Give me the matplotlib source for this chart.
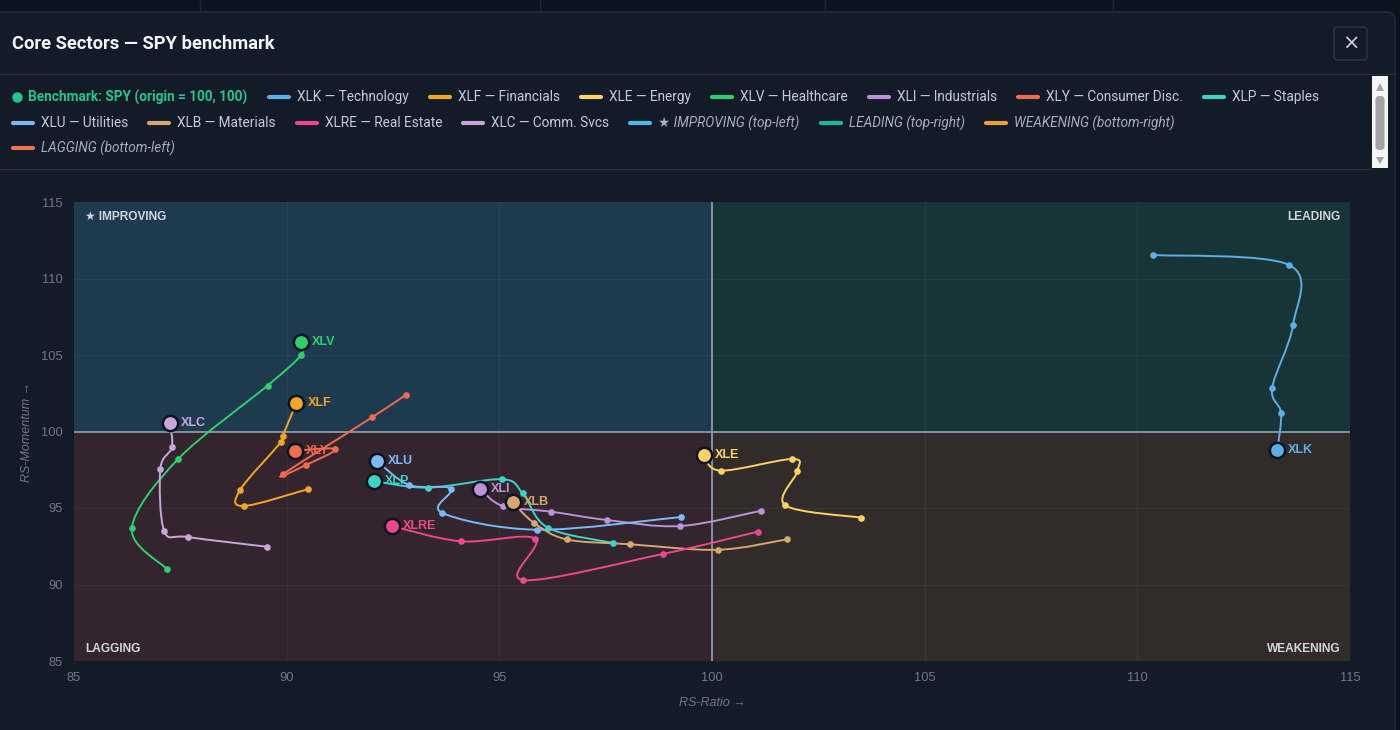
import matplotlib
matplotlib.use("Agg")
import matplotlib.pyplot as plt
from matplotlib.path import Path
from matplotlib.patches import PathPatch, Rectangle, FancyBboxPatch, Polygon

UI_FONT = ["Roboto", "DejaVu Sans"]
AX_FONT = ["Liberation Sans", "DejaVu Sans"]

# ---- data: RRG trails, oldest point first, last point = current position ----
tickers = ["XLK", "XLF", "XLE", "XLV", "XLI", "XLY", "XLP", "XLU", "XLB", "XLRE", "XLC"]
sector_names = ["Technology", "Financials", "Energy", "Healthcare", "Industrials",
                "Consumer Disc.", "Staples", "Utilities", "Materials", "Real Estate",
                "Comm. Svcs"]
colors = ["#5eaee6", "#f5a524", "#fcd265", "#2fcf6e", "#bd92d8", "#f26a4f",
          "#3fd3c6", "#7cb9fb", "#d6a86f", "#f0468e", "#c8a6dc"]

xlk_ratio = [110.37, 113.57, 113.66, 113.17, 113.38, 113.29]
xlk_mom = [111.54, 110.88, 106.96, 102.84, 101.21, 98.79]
xlf_ratio = [90.51, 88.99, 88.90, 89.86, 89.91, 90.23]
xlf_mom = [96.24, 95.13, 96.16, 99.29, 99.73, 101.86]
xle_ratio = [103.50, 101.72, 102.01, 101.88, 100.21, 99.81]
xle_mom = [94.37, 95.18, 97.42, 98.20, 97.44, 98.44]
xlv_ratio = [87.19, 86.36, 87.44, 89.55, 90.34, 90.34]
xlv_mom = [91.00, 93.67, 98.18, 103.00, 105.00, 105.83]
xli_ratio = [101.15, 99.25, 97.52, 96.22, 95.08, 94.55]
xli_mom = [94.82, 93.82, 94.22, 94.76, 95.13, 96.24]
xly_ratio = [92.81, 92.01, 89.91, 90.45, 91.14, 90.19]
xly_mom = [102.41, 100.93, 97.20, 97.81, 98.84, 98.75]
xlp_ratio = [97.68, 96.14, 95.55, 95.06, 93.32, 92.05]
xlp_mom = [92.71, 93.71, 95.96, 96.88, 96.33, 96.76]
xlu_ratio = [99.27, 95.88, 93.65, 93.86, 92.88, 92.12]
xlu_mom = [94.41, 93.58, 94.69, 96.26, 96.50, 98.07]
xlb_ratio = [101.76, 100.14, 98.07, 96.58, 95.81, 95.32]
xlb_mom = [92.95, 92.27, 92.63, 92.95, 94.04, 95.37]
xlre_ratio = [101.07, 98.85, 95.56, 95.84, 94.10, 92.47]
xlre_mom = [93.45, 92.00, 90.29, 93.00, 92.82, 93.82]
xlc_ratio = [89.53, 87.68, 87.12, 87.03, 87.30, 87.26]
xlc_mom = [92.47, 93.10, 93.50, 97.57, 98.97, 100.54]

ratios = [xlk_ratio, xlf_ratio, xle_ratio, xlv_ratio, xli_ratio, xly_ratio,
          xlp_ratio, xlu_ratio, xlb_ratio, xlre_ratio, xlc_ratio]
moms = [xlk_mom, xlf_mom, xle_mom, xlv_mom, xli_mom, xly_mom,
        xlp_mom, xlu_mom, xlb_mom, xlre_mom, xlc_mom]

quad_names = ["\u2605 IMPROVING (top-left)", "LEADING (top-right)",
              "WEAKENING (bottom-right)", "LAGGING (bottom-left)"]
quad_colors = ["#4cb9ea", "#1fb58f", "#f0a030", "#f07055"]

x_ticks = [85, 90, 95, 100, 105, 110, 115]
y_ticks = [85, 90, 95, 100, 105, 110, 115]

BG = "#131b29"
TXT = "#c6cbd4"


def smooth_path(xs, ys):
    # catmull-rom through the points, expressed as cubic bezier segments
    pts = list(zip(xs, ys))
    n = len(pts)
    verts = [pts[0]]
    codes = [Path.MOVETO]
    for i in range(n - 1):
        p0 = pts[max(i - 1, 0)]
        p1 = pts[i]
        p2 = pts[i + 1]
        p3 = pts[min(i + 2, n - 1)]
        c1 = (p1[0] + (p2[0] - p0[0]) / 6, p1[1] + (p2[1] - p0[1]) / 6)
        c2 = (p2[0] - (p3[0] - p1[0]) / 6, p2[1] - (p3[1] - p1[1]) / 6)
        verts += [c1, c2, p2]
        codes += [Path.CURVE4] * 3
    return Path(verts, codes)


fig = plt.figure(figsize=(14, 7.3), dpi=100)
fig.patch.set_facecolor("#0c131d")

# ---- page / modal chrome in pixel coordinates ----
bg = fig.add_axes([0, 0, 1, 1])
bg.set_xlim(0, 1400)
bg.set_ylim(730, 0)
bg.axis("off")
for xv in [200, 540, 825, 1113]:
    bg.plot([xv, xv], [0, 11], color="#1c2634", lw=1)
bg.add_patch(FancyBboxPatch((-20, 12), 1415, 760, boxstyle="round,pad=0,rounding_size=8",
                            fc=BG, ec="#243042", lw=1))
bg.text(12, 44, "Core Sectors \u2014 SPY benchmark", fontsize=13.2, fontweight="bold",
        color="#f2f4f7", va="center", family=UI_FONT)
bg.add_patch(FancyBboxPatch((1334, 27), 33, 33, boxstyle="round,pad=0,rounding_size=4",
                            fc=BG, ec="#2c3748", lw=1))
bg.text(1350.5, 44, "\u00d7", fontsize=15, color="#c8ccd4", ha="center", va="center",
        family=["DejaVu Sans"])
bg.plot([0, 1395], [74, 74], color="#232e3e", lw=1)
bg.plot([0, 1370], [169, 169], color="#232e3e", lw=1)

# scrollbar
bg.add_patch(Rectangle((1372, 76), 16, 92, fc="#f4f4f4", ec="none"))
bg.add_patch(FancyBboxPatch((1375.5, 96), 9, 54, boxstyle="round,pad=0,rounding_size=4",
                            fc="#a3a3a3", ec="none"))
bg.add_patch(Polygon([[1376, 91], [1384, 91], [1380, 83]], fc="#a3a3a3", ec="none"))
bg.add_patch(Polygon([[1376, 157], [1384, 157], [1380, 164]], fc="#a3a3a3", ec="none"))

# ---- legend (flow rows) ----
renderer = fig.canvas.get_renderer()


def text_width(t):
    return t.get_window_extent(renderer).width


legend_rows = [
    [("bench", None)] + [(i, None) for i in range(7)],
    [(i, None) for i in range(7, 11)] + [("q", k) for k in range(3)],
    [("q", 3)],
]
row_y = [97, 123, 148]
for row, yy in zip(legend_rows, row_y):
    x = 12
    for kind, k in row:
        if kind == "bench":
            bg.plot([17], [yy], "o", ms=7.5, color="#22c58b", mec="none")
            t = bg.text(28, yy, "Benchmark: SPY (origin = 100, 100)", fontsize=9.8,
                        fontweight="bold", color="#22c58b", va="center", family=UI_FONT)
            x = 28 + text_width(t) + 21
            continue
        if kind == "q":
            col = quad_colors[k]
            label = quad_names[k]
            style, tcol = "italic", "#a9afb9"
        else:
            col = colors[kind]
            label = f"{tickers[kind]} \u2014 {sector_names[kind]}"
            style, tcol = "normal", TXT
        bg.plot([x + 1, x + 21], [yy, yy], color=col, lw=3, solid_capstyle="round")
        t = bg.text(x + 29, yy, label, fontsize=9.8, color=tcol, style=style,
                    va="center", family=UI_FONT)
        x = x + 29 + text_width(t) + 20

# ---- RRG chart ----
ax = fig.add_axes([74 / 1400, 69 / 730, 1276 / 1400, 459 / 730])
ax.set_facecolor(BG)
ax.set_xlim(85, 115)
ax.set_ylim(85, 115)
ax.add_patch(Rectangle((85, 100), 15, 15, fc="#1e3a4f", ec="none", zorder=0))
ax.add_patch(Rectangle((100, 100), 15, 15, fc="#173437", ec="none", zorder=0))
ax.add_patch(Rectangle((85, 85), 15, 15, fc="#32252d", ec="none", zorder=0))
ax.add_patch(Rectangle((100, 85), 15, 15, fc="#312c29", ec="none", zorder=0))
for v in [90, 95, 105, 110]:
    ax.axvline(v, color="white", alpha=0.045, lw=1, zorder=1)
    ax.axhline(v, color="white", alpha=0.045, lw=1, zorder=1)
ax.axvline(100, color="#8d99a7", lw=1.3, zorder=2)
ax.axhline(100, color="#8d99a7", lw=1.3, zorder=2)
for s in ax.spines.values():
    s.set_visible(False)
ax.set_xticks(x_ticks)
ax.set_yticks(y_ticks)
ax.tick_params(length=0, colors="#6e7888", labelsize=9.3, pad=8)
for lab in ax.get_xticklabels() + ax.get_yticklabels():
    lab.set_family(AX_FONT)
ax.set_xlabel("RS-Ratio \u2192", fontsize=9, color="#6e7888", style="italic",
              family=AX_FONT, labelpad=9)
ax.set_ylabel("RS-Momentum \u2192", fontsize=9, color="#6e7888", style="italic",
              family=AX_FONT, labelpad=6)

qkw = dict(xycoords="axes fraction", textcoords="offset points", fontsize=8.6,
           fontweight="bold", color="#d2d7de", va="center", family=AX_FONT)
ax.annotate("\u2605 IMPROVING", (0, 1), xytext=(8, -11), ha="left", **qkw)
ax.annotate("LEADING", (1, 1), xytext=(-7, -11), ha="right", **qkw)
ax.annotate("LAGGING", (0, 0), xytext=(8, 9), ha="left", **qkw)
ax.annotate("WEAKENING", (1, 0), xytext=(-7, 9), ha="right", **qkw)

for tk, col, xs, ys in zip(tickers, colors, ratios, moms):
    ax.add_patch(PathPatch(smooth_path(xs, ys), fill=False, ec=col, lw=1.4,
                           capstyle="round", joinstyle="round", zorder=4))
    ax.plot(xs[:-1], ys[:-1], "o", ms=4.8, color=col, mec="none", zorder=5)
    ax.plot(xs[-1], ys[-1], "o", ms=11, color=col, mec="#0d1420", mew=1.8, zorder=6)
    ax.annotate(tk, (xs[-1], ys[-1]), xytext=(8, 0), textcoords="offset points",
                fontsize=9, fontweight="bold", color=col, va="center", ha="left",
                family=AX_FONT, zorder=7)

fig.savefig("out.png", dpi=100, facecolor=fig.get_facecolor())
